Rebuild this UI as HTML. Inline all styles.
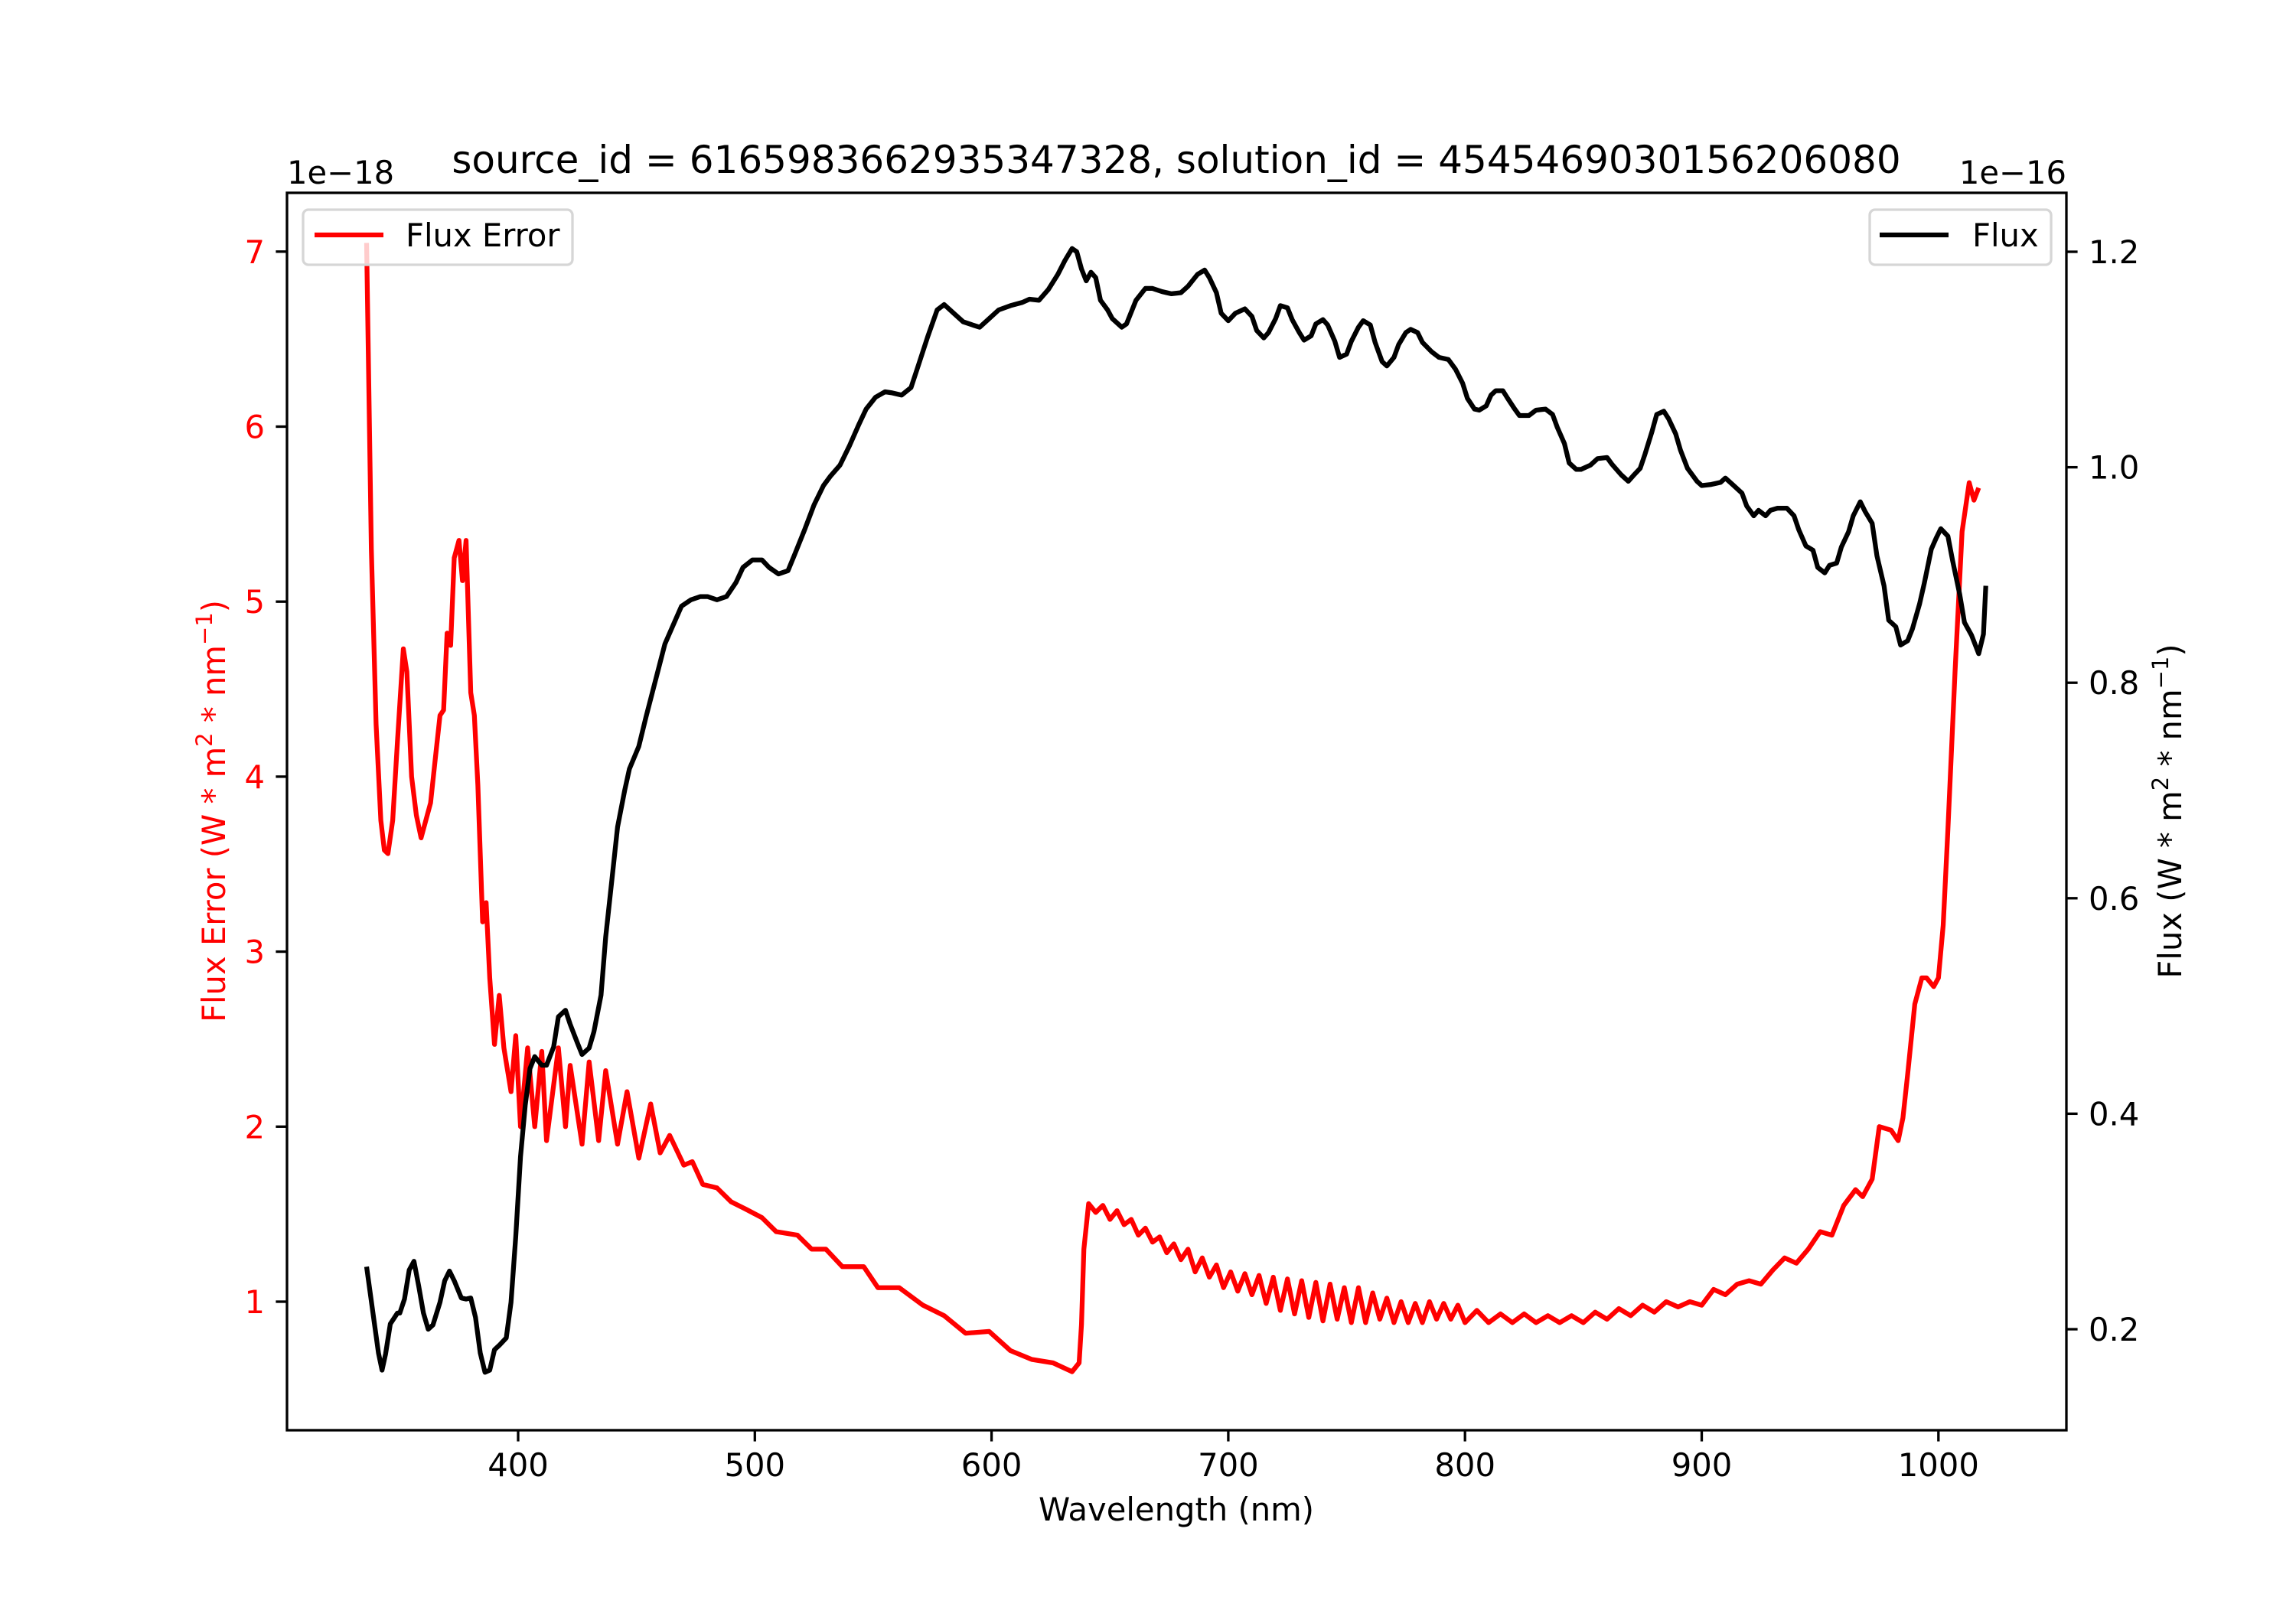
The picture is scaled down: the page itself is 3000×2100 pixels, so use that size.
<!DOCTYPE html>
<html><head><meta charset="utf-8">
<style>
html,body{margin:0;padding:0;background:#fff;}
svg{display:block;font-family:"DejaVu Sans","Liberation Sans",sans-serif;}
</style></head>
<body>
<svg id="chart" width="3000" height="2100" viewBox="0 0 3000 2100" xmlns="http://www.w3.org/2000/svg">
<rect width="3000" height="2100" fill="#fff"/>
<text x="1537" y="226" font-size="50" text-anchor="middle">source_id = 6165983662935347328, solution_id = 4545469030156206080</text>
<text x="375" y="240" font-size="41.7">1e−18</text>
<text x="2700" y="240" font-size="41.7" text-anchor="end">1e−16</text>
<g id="plot"></g>
<rect x="375" y="252" width="2325" height="1617" fill="none" stroke="#000" stroke-width="3.3"/>
<text x="1537" y="1987" font-size="41.7" text-anchor="middle">Wavelength (nm)</text>
<text transform="translate(294,1060) rotate(-90)" font-size="41.7" text-anchor="middle" fill="red">Flux Error (W * m<tspan baseline-shift="super" font-size="29">2</tspan> * nm<tspan baseline-shift="super" font-size="29">−1</tspan>)</text>
<text transform="translate(2850,1060) rotate(-90)" font-size="41.7" text-anchor="middle">Flux (W * m<tspan baseline-shift="super" font-size="29">2</tspan> * nm<tspan baseline-shift="super" font-size="29">−1</tspan>)</text>
<g>
<rect x="396" y="274" width="352" height="72" rx="7" fill="#fff" fill-opacity="0.8" stroke="#d6d6d6" stroke-width="3.3"/>
<line x1="411" y1="307" x2="501" y2="307" stroke="red" stroke-width="6.25"/>
<text x="530" y="322" font-size="41.7">Flux Error</text>
</g>
<g>
<rect x="2443" y="274" width="237" height="72" rx="7" fill="#fff" fill-opacity="0.8" stroke="#d6d6d6" stroke-width="3.3"/>
<line x1="2456" y1="307" x2="2546" y2="307" stroke="#000" stroke-width="6.25"/>
<text x="2577" y="322" font-size="41.7">Flux</text>
</g>
</svg>
<script>
const errWl = [336,338,340,342,343.5,345,347,349,351.5,353,355,357,359,361,363,365,367,368.5,370,371.5,373,375,376.5,378,380,381.5,383,385,386.5,388,390,392,394,397,399,401,404,407,410,412,417,420,422,427,430,434,437,442,446,451,456,460,464,470,473.6,478,484,490,496,503,509,518,524,530,537,546,552,561,571,580,589,599,608,617,626,634,637,638,639,641,
644,647,650,653,656,659,662,665,668,671,674,677,680,683,686,689,692,695,698,701,704,707,710,713,716,719,722,725,728,731,734,737,740,743,746,749,752,755,758,761,764,767,770,773,776,779,782,785,788,791,794,797,
800,805,810,815,820,825,830,835,840,845,850,855,860,865,870,875,880,885,890,895,900,905,910,915,920,925,930,935,940,945,950,955,960,965,968,972,975,980,983,985,987,990,993,995,998,1000,1002,1004,1007,1010,1013,1015,1017,1020];
const errVal = [7.05,5.3,4.3,3.75,3.58,3.56,3.75,4.2,4.73,4.6,4.0,3.78,3.65,3.75,3.85,4.1,4.35,4.38,4.82,4.75,5.25,5.35,5.12,5.35,4.48,4.35,3.95,3.17,3.28,2.85,2.47,2.75,2.45,2.2,2.52,2.0,2.45,2.0,2.43,1.92,2.45,2.0,2.35,1.9,2.37,1.92,2.32,1.9,2.2,1.82,2.13,1.85,1.95,1.78,1.8,1.67,1.65,1.57,1.53,1.48,1.4,1.38,1.3,1.3,1.2,1.2,1.08,1.08,0.98,0.92,0.82,0.83,0.72,0.67,0.65,0.6,0.65,0.87,1.3,
1.56,1.51,1.55,1.47,1.52,1.44,1.47,1.38,1.42,1.34,1.37,1.28,1.33,1.24,1.3,1.17,1.25,1.14,1.21,1.08,1.17,1.06,1.16,1.04,1.15,0.99,1.14,0.95,1.13,0.93,1.12,0.91,1.11,0.89,1.1,0.9,1.08,0.88,1.08,0.88,1.05,0.9,1.02,0.88,1.0,0.88,0.99,0.88,1.0,0.9,0.99,0.9,
0.98,0.88,0.95,0.88,0.93,0.88,0.93,0.88,0.92,0.88,0.92,0.88,0.94,0.9,0.96,0.92,0.98,0.94,1.0,0.97,1.0,0.98,1.07,1.04,1.1,1.12,1.1,1.18,1.25,1.22,1.3,1.4,1.38,1.55,1.64,1.6,1.7,2.0,1.98,1.92,2.05,2.3,2.7,2.85,2.85,2.8,2.85,3.15,3.7,4.6,5.4,5.68,5.58,5.65];
const fluxWl = [336,339,341,342.5,344,346,349,350,352,354,356,358,360,362,364,367,369,371,373,376,378,380,382,384,386,388,390,392,395,397,399,401,403,405,407,410,412,415,417,420,422,425,427,430,432,435,437,440,442,445,447,451,454,458,462,466,469,473,477,480,484,488,492,495,499,503,506,510,514,517,521,525,529,532,536,540,544,547,551,555,558,562,566,569,573,577,580,584,588,592,595,599,603,608,613,616,620,624,628,631,634,636,638,640,642,644,646,649,651,655,657,661,665,668,672,676,680,683,687,690,692,695,697,700,703,707,710,712,715,717,720,722,725,727,730,732,735,737,740,742,745,747,750,752,755,757,760,762,765,767,770,772,775,777,780,782,786,789,793,796,799,801,804,806,809,811,813,816,818,821,823,827,830,834,837,839,842,844,847,849,853,856,860,862,866,869,871,874,876,879,881,884,886,889,891,894,898,900,904,908,910,913,917,919,922,924,927,929,932,936,939,941,944,947,949,952,954,957,959,962,964,967,969,972,974,977,979,982,984,987,989,992,994,997,999,1001,1004,1006,1009,1011,1014,1017,1019,1020];
const fluxVal = [0.258,0.21,0.178,0.162,0.177,0.205,0.215,0.215,0.228,0.255,0.263,0.24,0.215,0.2,0.204,0.225,0.245,0.254,0.245,0.229,0.228,0.229,0.211,0.178,0.16,0.162,0.181,0.185,0.192,0.225,0.286,0.36,0.408,0.442,0.453,0.445,0.445,0.462,0.49,0.496,0.483,0.466,0.455,0.461,0.476,0.51,0.564,0.625,0.666,0.7,0.72,0.741,0.768,0.802,0.836,0.856,0.871,0.877,0.88,0.88,0.877,0.88,0.893,0.907,0.914,0.914,0.907,0.901,0.904,0.92,0.942,0.965,0.983,0.992,1.002,1.02,1.04,1.054,1.065,1.07,1.069,1.067,1.074,1.094,1.121,1.146,1.151,1.143,1.135,1.132,1.13,1.138,1.146,1.15,1.153,1.156,1.155,1.165,1.179,1.192,1.203,1.2,1.184,1.173,1.181,1.176,1.155,1.146,1.138,1.13,1.133,1.155,1.166,1.166,1.163,1.161,1.162,1.168,1.179,1.183,1.176,1.162,1.143,1.136,1.143,1.147,1.14,1.127,1.12,1.125,1.138,1.15,1.148,1.137,1.125,1.118,1.122,1.133,1.137,1.132,1.117,1.102,1.105,1.117,1.13,1.136,1.132,1.116,1.098,1.094,1.102,1.114,1.125,1.128,1.125,1.116,1.107,1.102,1.1,1.091,1.078,1.064,1.054,1.053,1.057,1.067,1.071,1.071,1.064,1.054,1.048,1.048,1.053,1.054,1.049,1.037,1.022,1.004,0.998,0.998,1.002,1.008,1.009,1.003,0.993,0.987,0.992,0.999,1.012,1.033,1.049,1.052,1.045,1.031,1.016,0.999,0.987,0.983,0.984,0.986,0.99,0.984,0.976,0.964,0.955,0.96,0.955,0.96,0.962,0.962,0.955,0.942,0.927,0.923,0.907,0.902,0.909,0.911,0.926,0.94,0.955,0.968,0.959,0.948,0.918,0.89,0.858,0.852,0.835,0.839,0.85,0.873,0.892,0.924,0.934,0.943,0.936,0.913,0.882,0.856,0.844,0.827,0.845,0.89];
const xTicks = [400,500,600,700,800,900,1000];
const errTicks = [1,2,3,4,5,6,7];
const fluxTicks = [0.2,0.4,0.6,0.8,1.0,1.2];
const fluxTickLabels = ["0.2","0.4","0.6","0.8","1.0","1.2"];

const L=375,R=2700,T=252,B=1869;
function xs(w){return 677+(w-400)*3.093;}
function yErr(v){return 1701-(v-1)*228.7;}
function yFlux(v){return 1737-(v-0.2)*1408;}
const NS="http://www.w3.org/2000/svg";
const g=document.getElementById('plot');
function mk(tag,attrs){const e=document.createElementNS(NS,tag);for(const k in attrs)e.setAttribute(k,attrs[k]);g.appendChild(e);return e;}

const clip=document.createElementNS(NS,'clipPath');clip.setAttribute('id','cp');
const cr=document.createElementNS(NS,'rect');cr.setAttribute('x',L);cr.setAttribute('y',T);cr.setAttribute('width',R-L);cr.setAttribute('height',B-T);
clip.appendChild(cr);g.appendChild(clip);

function linePath(wl,vals,yf){
  const pts=[];
  for(let i=0;i<wl.length;i++){ if(vals[i]===undefined) continue; pts.push(xs(wl[i]).toFixed(1)+' '+yf(vals[i]).toFixed(1)); }
  return 'M'+pts.join(' L');
}

const pe=mk('path',{d:linePath(errWl,errVal,yErr),fill:'none',stroke:'red','stroke-width':6.25,'stroke-linejoin':'round','clip-path':'url(#cp)'});



const pf=mk('path',{d:linePath(fluxWl,fluxVal,yFlux),fill:'none',stroke:'#000','stroke-width':6.25,'stroke-linejoin':'round','clip-path':'url(#cp)'});



xTicks.forEach(t=>{
  const x=xs(t);
  const l=mk('line',{x1:x,y1:B,x2:x,y2:B+14.6,stroke:'#000','stroke-width':3.3});
  
  
  const tx=mk('text',{x:x,y:B+60,'font-size':41.7,'text-anchor':'middle'});tx.textContent=t;
  
  
});
errTicks.forEach(t=>{
  const y=yErr(t);
  const l=mk('line',{x1:L-14.6,y1:y,x2:L,y2:y,stroke:'#000','stroke-width':3.3});
  
  
  const tx=mk('text',{x:L-29,y:y+15,'font-size':41.7,'text-anchor':'end',fill:'red'});tx.textContent=t;
  
  
});
fluxTicks.forEach((t,i)=>{
  const y=yFlux(t);
  const l=mk('line',{x1:R,y1:y,x2:R+14.6,y2:y,stroke:'#000','stroke-width':3.3});
  
  
  const tx=mk('text',{x:R+29,y:y+15,'font-size':41.7});tx.textContent=fluxTickLabels[i];
  
  
});
</script>
</body></html>
